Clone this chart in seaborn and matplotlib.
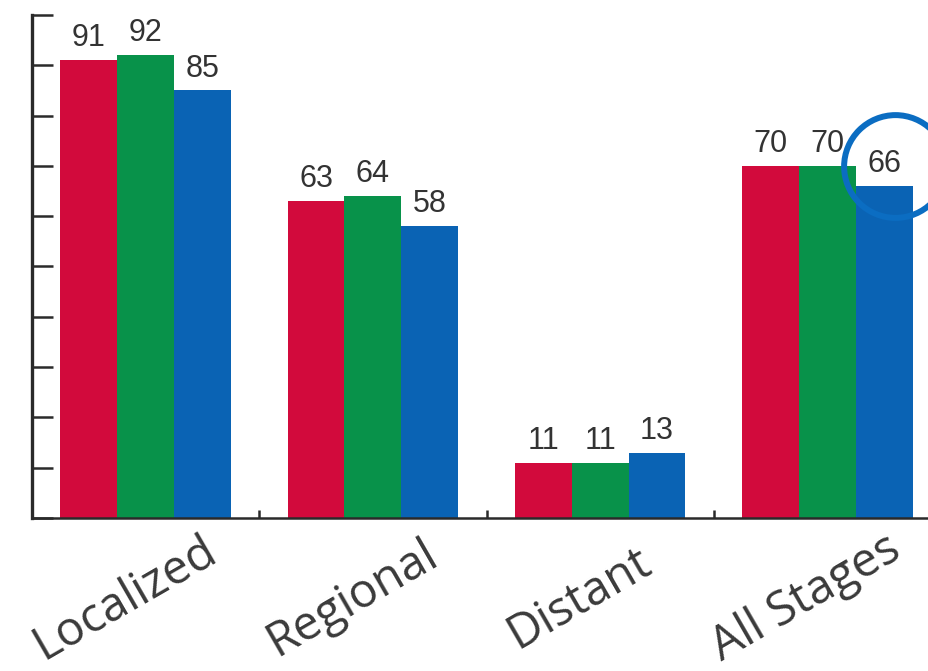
import numpy as np
import pandas as pd
import matplotlib
matplotlib.use("Agg")
import matplotlib.pyplot as plt
from matplotlib import transforms
import seaborn as sns

# Five-year relative survival (%) by stage at diagnosis
stages = ["Localized", "Regional", "Distant", "All Stages"]
series = ["series_1", "series_2", "series_3"]
survival_1 = [91, 63, 11, 70]
survival_2 = [92, 64, 11, 70]
survival_3 = [85, 58, 13, 66]
palette = ["#D20A3C", "#08924A", "#0A63B4"]

df = pd.DataFrame({
    "stage": stages * len(series),
    "series": np.repeat(series, len(stages)),
    "value": survival_1 + survival_2 + survival_3,
})

sns.set_theme(style="white")
plt.rcParams["font.family"] = ["Liberation Sans", "DejaVu Sans"]

W, H = 929, 671
fig = plt.figure(figsize=(W / 100, H / 100), dpi=100)
# plot area runs past the right edge of the canvas
ax = fig.add_axes([32 / W, 153 / H, (941 - 32) / W, 503 / H])

sns.barplot(
    data=df, x="stage", y="value", hue="series",
    order=stages, hue_order=series, palette=palette,
    width=0.75, gap=0, saturation=1, errorbar=None,
    legend=False, linewidth=0, ax=ax,
)

ax.set_xlim(-0.5, 3.5)
ax.set_ylim(0, 100)
ax.set_xlabel("")
ax.set_ylabel("")

axis_color = "#2a2a2a"
ax.spines[["top", "right"]].set_visible(False)
ax.spines["left"].set_linewidth(2.4)
ax.spines["left"].set_color(axis_color)
ax.spines["bottom"].set_linewidth(1.8)
ax.spines["bottom"].set_color(axis_color)

# y ticks: inward marks every 10, no labels
ax.set_yticks(np.arange(0, 101, 10))
ax.tick_params(axis="y", direction="in", length=15, width=1.8,
               color=axis_color, labelleft=False, left=True)

# x ticks: small upward marks between groups
ax.set_xticks([0.5, 1.5, 2.5], minor=True)
ax.tick_params(axis="x", which="minor", direction="in", length=6,
               width=1.8, color=axis_color, bottom=True)
ax.tick_params(axis="x", which="major", length=0, pad=0)

shift = transforms.ScaledTranslation(-0.21, -0.80, fig.dpi_scale_trans)
for lab in ax.get_xticklabels():
    lab.set_rotation(30)
    lab.set_rotation_mode("anchor")
    lab.set_ha("center")
    lab.set_va("center")
    lab.set_fontsize(34)
    lab.set_family(["Open Sans", "DejaVu Sans"])
    lab.set_color("#3a3a3a")
    lab.set_transform(lab.get_transform() + shift)

# value labels on top of each bar
for container in ax.containers:
    ax.bar_label(container, fmt="%d", padding=5, fontsize=22, color="#333333")

# highlight ring around the last value label
bar = ax.containers[2][3]
bx = bar.get_x() + bar.get_width() / 2
by = bar.get_height()
ring_tr = transforms.offset_copy(ax.transData, fig=fig, x=11, y=20, units="dots")
ax.plot([bx], [by], marker="o", ms=74, mfc="none", mec="#0B6DC2",
        mew=4.3, transform=ring_tr, clip_on=False)

fig.savefig("out.png", dpi=100)
